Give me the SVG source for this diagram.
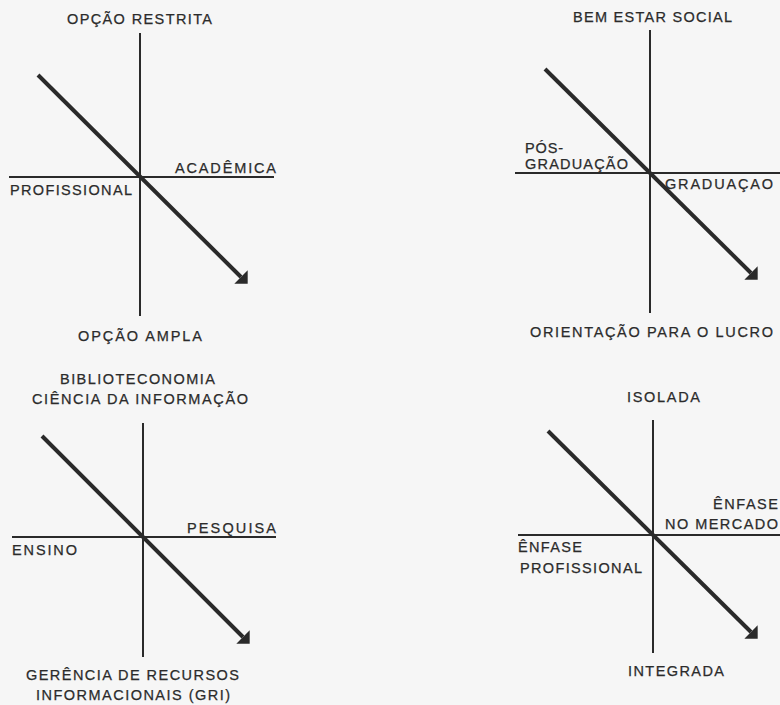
<svg xmlns="http://www.w3.org/2000/svg" width="780" height="705" viewBox="0 0 780 705">
<style>
.bg{fill:#f6f6f6}
.axis{stroke:#2a2a2a;stroke-width:2;fill:none}
.diag{stroke:#2a2a2a;stroke-width:4;fill:none;marker-end:url(#ah)}
text{font-family:"Liberation Sans",Arial,sans-serif;font-size:14.5px;fill:#2b2b2b;stroke:#2b2b2b;stroke-width:0.25}
</style>
<defs>
<marker id="ah" markerUnits="userSpaceOnUse" markerWidth="12" markerHeight="20" viewBox="0 -9 10 18" refX="0" refY="0" orient="auto">
<path d="M0,-8.5 L8.5,0 L0,8.5 z" fill="#2a2a2a"/>
</marker>
</defs>
<rect class="bg" x="0" y="0" width="780" height="705"/>

<g id="connectors">
<line class="axis" x1="140" y1="33" x2="140" y2="316"/>
<line class="axis" x1="9" y1="177" x2="274" y2="177"/>
<line class="diag" x1="38" y1="75" x2="241" y2="277"/>

<line class="axis" x1="650" y1="30" x2="650" y2="313"/>
<line class="axis" x1="515" y1="173" x2="780" y2="173"/>
<line class="diag" x1="545" y1="69" x2="751" y2="273"/>

<line class="axis" x1="143" y1="423" x2="143" y2="657"/>
<line class="axis" x1="12" y1="537" x2="276" y2="537"/>
<line class="diag" x1="42" y1="436" x2="243" y2="637"/>

<line class="axis" x1="653" y1="420" x2="653" y2="653"/>
<line class="axis" x1="518" y1="535" x2="780" y2="535"/>
<line class="diag" x1="548" y1="431" x2="751" y2="632"/>
</g>

<g id="q1-top"><text x="67" y="23.5" textLength="145" lengthAdjust="spacing">OPÇÃO RESTRITA</text></g>
<g id="q1-right"><text x="175" y="172.5" textLength="101" lengthAdjust="spacing">ACADÊMICA</text></g>
<g id="q1-left"><text x="10" y="194.5" textLength="122" lengthAdjust="spacing">PROFISSIONAL</text></g>
<g id="q1-bottom"><text x="78" y="341" textLength="124" lengthAdjust="spacing">OPÇÃO AMPLA</text></g>

<g id="q2-top"><text x="573" y="21.5" textLength="159" lengthAdjust="spacing">BEM ESTAR SOCIAL</text></g>
<g id="q2-left"><text x="525" y="153" textLength="38" lengthAdjust="spacing">PÓS-</text><text x="525" y="169" textLength="103" lengthAdjust="spacing">GRADUAÇÃO</text></g>
<g id="q2-right"><text x="665" y="189" textLength="108" lengthAdjust="spacing">GRADUAÇAO</text></g>
<g id="q2-bottom"><text x="530" y="337" textLength="243" lengthAdjust="spacing">ORIENTAÇÃO PARA O LUCRO</text></g>

<g id="q3-top"><text x="60" y="384" textLength="155" lengthAdjust="spacing">BIBLIOTECONOMIA</text><text x="32" y="404" textLength="216" lengthAdjust="spacing">CIÊNCIA DA INFORMAÇÃO</text></g>
<g id="q3-right"><text x="187" y="533" textLength="89" lengthAdjust="spacing">PESQUISA</text></g>
<g id="q3-left"><text x="12" y="555" textLength="65" lengthAdjust="spacing">ENSINO</text></g>
<g id="q3-bottom"><text x="26" y="680" textLength="213" lengthAdjust="spacing">GERÊNCIA DE RECURSOS</text><text x="36" y="700" textLength="194" lengthAdjust="spacing">INFORMACIONAIS (GRI)</text></g>

<g id="q4-top"><text x="627" y="401.5" textLength="73" lengthAdjust="spacing">ISOLADA</text></g>
<g id="q4-right"><text x="713" y="509" textLength="65" lengthAdjust="spacing">ÊNFASE</text><text x="665" y="529" textLength="113" lengthAdjust="spacing">NO MERCADO</text></g>
<g id="q4-left"><text x="518" y="551.5" textLength="64" lengthAdjust="spacing">ÊNFASE</text><text x="520" y="572.5" textLength="122" lengthAdjust="spacing">PROFISSIONAL</text></g>
<g id="q4-bottom"><text x="628" y="676" textLength="96" lengthAdjust="spacing">INTEGRADA</text></g>
</svg>
